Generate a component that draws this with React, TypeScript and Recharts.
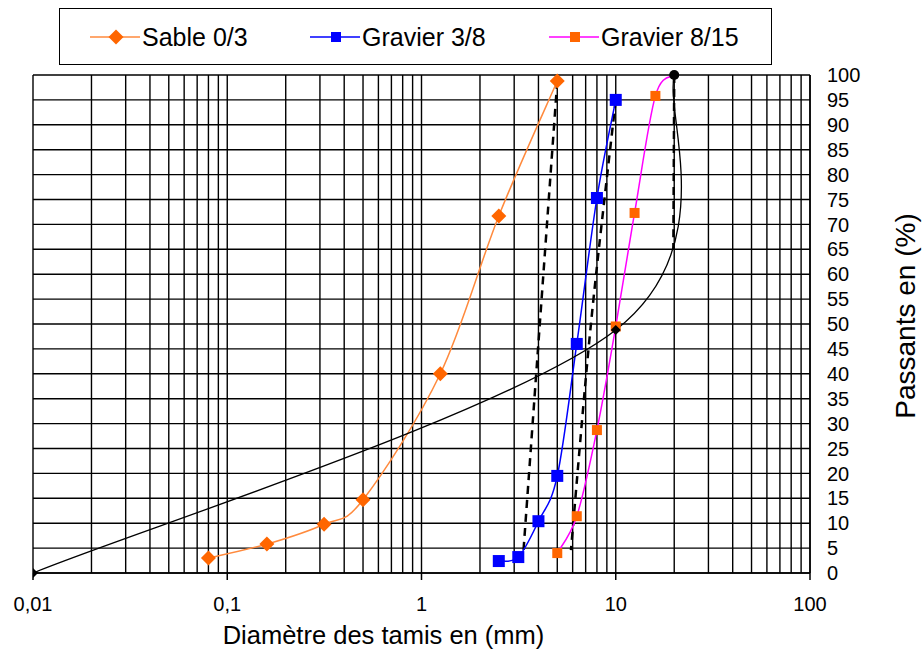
import { LineChart, Line, XAxis, YAxis, CartesianGrid, Legend, Label } from "recharts";

// sieve openings (mm) and passing percentages
const sableDiam = [0.08, 0.16, 0.315, 0.5, 1.25, 2.5, 5];
const sablePass = [3, 5.8, 9.8, 14.7, 40, 71.7, 98.8];

const g38Diam = [2.5, 3.15, 4, 5, 6.3, 8, 10];
const g38Pass = [2.4, 3.2, 10.4, 19.5, 46, 75.3, 95];

// last point (20 / 100) sits under the black reference marker
const g815Diam = [5, 6.3, 8, 10, 12.5, 16, 20];
const g815Pass = [4, 11.4, 28.7, 49.5, 72.3, 95.8, 100];

// reference curve (courbe de référence)
const refDiam = [0.01, 10, 20];
const refPass = [0, 48.8, 100];

// dashed construction lines
const dashADiam = [5, 3.35];
const dashAPass = [98.8, 4.5];
const dashBDiam = [10, 7.46, 5.88];
const dashBPass = [95, 50.2, 4.6];
const dashCDiam = [20, 19.8];
const dashCPass = [100, 65];

const xTicks = [0.01, 0.1, 1, 10, 100];
const yTicks = [0, 5, 10, 15, 20, 25, 30, 35, 40, 45, 50, 55, 60, 65, 70, 75, 80, 85, 90, 95, 100];
const gridMultipliers = [1, 2, 3, 4, 5, 6, 7, 8, 9];
const gridDecades = [0.01, 0.1, 1, 10];

const FONT = '"Liberation Sans", Arial, sans-serif';
const SABLE_LINE = "#FF8A3D";
const ORANGE = "#FF6600";
const BLUE = "#0000FF";
const MAGENTA = "#FF00FF";

const toRows = (diam: number[], pass: number[]) => diam.map((d, i) => ({ d, p: pass[i] }));

const gridX = [...gridDecades.flatMap((dec) => gridMultipliers.map((m) => +(dec * m).toPrecision(3))), 100];

// Excel-like smoothed line (Catmull-Rom through the points)
function excelSmooth(context: any) {
  let pts: number[][] = [];
  return {
    areaStart() {},
    areaEnd() {},
    lineStart() {
      pts = [];
    },
    point(x: number, y: number) {
      pts.push([+x, +y]);
    },
    lineEnd() {
      const n = pts.length;
      if (n === 0) return;
      context.moveTo(pts[0][0], pts[0][1]);
      for (let i = 0; i < n - 1; i++) {
        const p0 = pts[Math.max(i - 1, 0)];
        const p1 = pts[i];
        const p2 = pts[i + 1];
        const p3 = pts[Math.min(i + 2, n - 1)];
        context.bezierCurveTo(
          p1[0] + (p2[0] - p0[0]) / 6,
          p1[1] + (p2[1] - p0[1]) / 6,
          p2[0] - (p3[0] - p1[0]) / 6,
          p2[1] - (p3[1] - p1[1]) / 6,
          p2[0],
          p2[1]
        );
      }
    },
  };
}

const diamond = (cx: number, cy: number, r: number, fill: string, key: string) => (
  <path key={key} d={`M${cx},${cy - r}L${cx + r},${cy}L${cx},${cy + r}L${cx - r},${cy}Z`} fill={fill} />
);
const square = (cx: number, cy: number, h: number, fill: string, key: string) => (
  <rect key={key} x={cx - h} y={cy - h} width={h * 2} height={h * 2} fill={fill} />
);

const sableDot = (p: any) => diamond(p.cx, p.cy, 7.5, ORANGE, `s${p.index}`);
const g38Dot = (p: any) => square(p.cx, p.cy, 6, BLUE, `b${p.index}`);
const g815Dot = (p: any) =>
  p.index === g815Diam.length - 1 ? <g key={`m${p.index}`} /> : square(p.cx, p.cy, 5, ORANGE, `m${p.index}`);
const refDot = (p: any) =>
  p.index === refDiam.length - 1 ? (
    <circle key={`r${p.index}`} cx={p.cx} cy={p.cy} r={5} fill="#000" />
  ) : (
    diamond(p.cx, p.cy, 5, "#000", `r${p.index}`)
  );

const legendItems = [
  { name: "Sable 0/3", line: SABLE_LINE, left: 30, marker: (cx: number) => diamond(cx, 10, 7.5, ORANGE, "l1") },
  { name: "Gravier 3/8", line: BLUE, left: 250, marker: (cx: number) => square(cx, 10, 5, BLUE, "l2") },
  { name: "Gravier 8/15", line: MAGENTA, left: 489, marker: (cx: number) => square(cx, 10, 5, ORANGE, "l3") },
];

function LegendBox() {
  return (
    <div
      style={{
        width: 713,
        height: 57,
        border: "1.5px solid #000",
        boxSizing: "border-box",
        position: "relative",
        fontFamily: FONT,
        fontSize: 25,
        color: "#000",
        background: "#fff",
      }}
    >
      {legendItems.map((it) => (
        <div
          key={it.name}
          style={{ position: "absolute", left: it.left, top: 0, height: 56, display: "flex", alignItems: "center" }}
        >
          <svg width={50} height={20} style={{ marginRight: 2 }}>
            <line x1={0} y1={10} x2={50} y2={10} stroke={it.line} strokeWidth={1.5} />
            {it.marker(26)}
          </svg>
          <span>{it.name}</span>
        </div>
      ))}
    </div>
  );
}

export default function App() {
  return (
    <div style={{ position: "absolute", left: 0, top: 0, background: "#fff" }}>
      <LineChart width={923} height={654} margin={{ top: 75, right: 0, bottom: 0, left: 33 }}>
        <CartesianGrid stroke="#000" strokeWidth={1.4} verticalValues={gridX} horizontalValues={yTicks} />
        <XAxis
          dataKey="d"
          type="number"
          scale="log"
          domain={[0.01, 100]}
          allowDataOverflow
          ticks={xTicks}
          interval={0}
          height={81}
          tickSize={7}
          tickMargin={17}
          tickFormatter={(v: number) => String(v).replace(".", ",")}
          tick={{ fill: "#000", fontSize: 20, fontFamily: FONT }}
          stroke="#000"
          axisLine={{ stroke: "#000", strokeWidth: 1.5 }}
          tickLine={{ stroke: "#000", strokeWidth: 1.5 }}
        >
          <Label
            content={(props: any) => {
              const vb = props.viewBox;
              return (
                <text
                  x={vb.x + vb.width / 2 - 38}
                  y={vb.y + vb.height - 10}
                  textAnchor="middle"
                  fontSize={25.5}
                  fontFamily={FONT}
                  fill="#000"
                >
                  Diamètre des tamis en (mm)
                </text>
              );
            }}
          />
        </XAxis>
        <YAxis
          yAxisId={0}
          orientation="right"
          type="number"
          domain={[0, 100]}
          ticks={yTicks}
          interval={0}
          width={113}
          tickSize={6}
          tickMargin={11}
          tickLine={false}
          tick={{ fill: "#000", fontSize: 20, fontFamily: FONT, textAnchor: "start" }}
          axisLine={{ stroke: "#000", strokeWidth: 1.5 }}
        >
          <Label
            content={(props: any) => {
              const vb = props.viewBox;
              const x = vb.x + 95;
              const y = vb.y + vb.height / 2 - 8;
              return (
                <text
                  x={x}
                  y={y}
                  transform={`rotate(-90 ${x} ${y})`}
                  textAnchor="middle"
                  dominantBaseline="central"
                  fontSize={28}
                  fontFamily={FONT}
                  fill="#000"
                >
                  Passants en (%)
                </text>
              );
            }}
          />
        </YAxis>
        <Legend
          layout="horizontal"
          verticalAlign="middle"
          align="center"
          wrapperStyle={{ left: 59, top: 8, width: 713, height: 57 }}
          content={() => <LegendBox />}
        />

        <Line data={toRows(dashADiam, dashAPass)} dataKey="p" type={excelSmooth as any} stroke="#000" strokeWidth={2.5} strokeDasharray="8 6" dot={false} isAnimationActive={false} legendType="none" />
        <Line data={toRows(dashBDiam, dashBPass)} dataKey="p" type={excelSmooth as any} stroke="#000" strokeWidth={2.5} strokeDasharray="8 6" dot={false} isAnimationActive={false} legendType="none" />
        <Line data={toRows(dashCDiam, dashCPass)} dataKey="p" type={excelSmooth as any} stroke="#000" strokeWidth={2.5} strokeDasharray="8 6" dot={false} isAnimationActive={false} legendType="none" />

        <Line data={toRows(sableDiam, sablePass)} dataKey="p" name="Sable 0/3" type={excelSmooth as any} stroke={SABLE_LINE} strokeWidth={1.5} dot={sableDot} isAnimationActive={false} />
        <Line data={toRows(g38Diam, g38Pass)} dataKey="p" name="Gravier 3/8" type={excelSmooth as any} stroke={BLUE} strokeWidth={1.5} dot={g38Dot} isAnimationActive={false} />
        <Line data={toRows(g815Diam, g815Pass)} dataKey="p" name="Gravier 8/15" type={excelSmooth as any} stroke={MAGENTA} strokeWidth={1.5} dot={g815Dot} isAnimationActive={false} />
        <Line data={toRows(refDiam, refPass)} dataKey="p" type={excelSmooth as any} stroke="#000" strokeWidth={1.3} dot={refDot} isAnimationActive={false} legendType="none" />
      </LineChart>
    </div>
  );
}
